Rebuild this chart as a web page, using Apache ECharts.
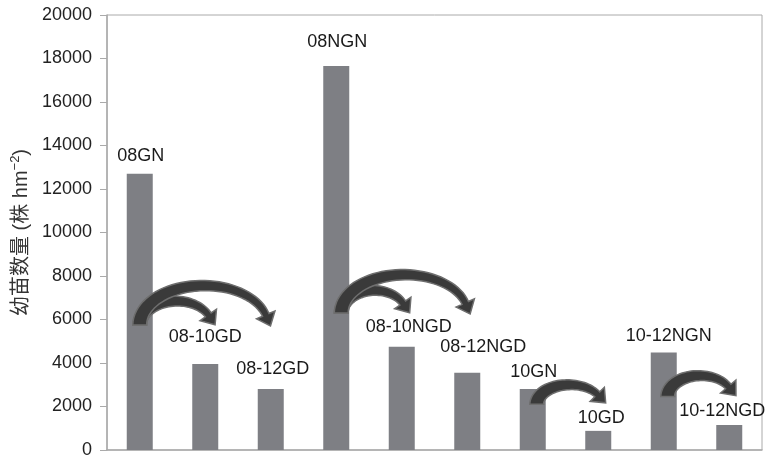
<!DOCTYPE html>
<html><head><meta charset="utf-8">
<script src="https://cdn.jsdelivr.net/npm/echarts@6/dist/echarts.min.js"></script>
<style>html,body{margin:0;padding:0;background:#fff}#c{width:766px;height:459px}</style>
</head><body><div id="c"></div>
<script>
// ---- data ----
const categories = ['08GN','08-10GD','08-12GD','08NGN','08-10NGD','08-12NGD','10GN','10GD','10-12NGN','10-12NGD'];
const values = [12700, 3950, 2800, 17650, 4750, 3550, 2800, 880, 4480, 1150];
const yTicks = {min: 0, max: 20000, interval: 2000};
// annotation arrows (from category -> to category, base and peak in y units)
const arrowFrom = [0, 0, 3, 3, 6, 8];
const arrowTo   = [1, 2, 4, 5, 7, 9];
const arrowBase = [5750, 5750, 6300, 6300, 2100, 2460];
const arrowTop  = [6850, 7560, 7340, 8060, 3000, 3420];

// ---- styling ----
const labelOffsets = [[1,-4],[0,-13],[2,-6],[1,-10],[7,-5.5],[16,-11.5],[1,-3],[3,1.5],[5,-3],[-7,0.5]];
const arrowStartShift = [0, 0, 5, 5, 4, 4];
const arrowEndShift = [3, -5, 1, -2, -1, -1];
const FONT = "'Liberation Sans', Arial, 'Noto Sans CJK SC', sans-serif";

const chart = echarts.init(document.getElementById('c'));

function renderArrow(params, api) {
  const i = params.dataIndex;
  const f = api.value(0), t = api.value(1), base = api.value(2), top = api.value(3);
  const S = api.coord([f, base]);
  const T = api.coord([t, base]);
  const P = api.coord([f, top]);
  const sx = S[0] + arrowStartShift[i];
  const ex = T[0] + arrowEndShift[i];
  const cy = S[1], ry = cy - P[1];
  const th1 = Math.asin(Math.min(0.9, 10 / ry));
  const rx = (ex - sx) / (1 + Math.cos(th1));
  const cx = sx + rx;
  const N = 40;
  const w0 = 14, w1 = 7, headW = 20, headL = 12;
  const left = [], right = [];
  let E, dEnd, nEnd;
  for (let k = 0; k <= N; k++) {
    const th = Math.PI - (Math.PI - th1) * k / N;
    const p = [cx + rx * Math.cos(th), cy - ry * Math.sin(th)];
    let d = [rx * Math.sin(th), ry * Math.cos(th)];
    const L = Math.hypot(d[0], d[1]) || 1;
    d = [d[0] / L, d[1] / L];
    const n = [-d[1], d[0]];
    const w = w0 + (w1 - w0) * k / N;
    left.push([p[0] + n[0] * w / 2, p[1] + n[1] * w / 2]);
    right.push([p[0] - n[0] * w / 2, p[1] - n[1] * w / 2]);
    if (k === N) { E = p; dEnd = d; nEnd = n; }
  }
  const pts = left.slice();
  pts.push([E[0] + nEnd[0] * headW / 2, E[1] + nEnd[1] * headW / 2]);
  pts.push([E[0] + dEnd[0] * headL, E[1] + dEnd[1] * headL]);
  pts.push([E[0] - nEnd[0] * headW / 2, E[1] - nEnd[1] * headW / 2]);
  for (let k = right.length - 1; k >= 0; k--) pts.push(right[k]);
  return {
    type: 'polygon',
    shape: { points: pts },
    style: { fill: '#3a3a3a', stroke: '#6e6e6e', lineWidth: 1.5 }
  };
}

chart.setOption({
  animation: false,
  backgroundColor: '#fff',
  textStyle: { fontFamily: FONT },
  grid: { left: 107, right: 4, top: 15, bottom: 5, show: true, borderColor: '#aaa', borderWidth: 1 },
  xAxis: {
    type: 'category',
    data: categories,
    axisLine: { lineStyle: { color: '#aaa', width: 1.5 } },
    axisTick: { show: false },
    axisLabel: { show: false },
    splitLine: { show: false }
  },
  yAxis: {
    type: 'value',
    min: yTicks.min, max: yTicks.max, interval: yTicks.interval,
    axisLine: { show: true, lineStyle: { color: '#aaa', width: 1.5 } },
    axisTick: { show: true, length: 7, lineStyle: { color: '#aaa' } },
    axisLabel: { color: '#222', fontSize: 18, margin: 15, fontFamily: FONT, formatter: v => String(v) },
    splitLine: { show: false },
    name: '{a|幼苗数量 (株 hm}{s|−2}{a|)}',
    nameLocation: 'middle',
    nameRotate: 90,
    nameGap: 70,
    nameTextStyle: {
      rich: {
        a: { fontSize: 20, color: '#333', fontFamily: FONT, lineHeight: 24 },
        s: { fontSize: 13, color: '#333', fontFamily: FONT, verticalAlign: 'top', lineHeight: 24, padding: [0, 0, 7, 0] }
      }
    }
  },
  series: [
    {
      type: 'bar',
      barWidth: 26,
      itemStyle: { color: '#7e7f84' },
      data: values.map((v, i) => ({ value: v, label: { offset: labelOffsets[i] } })),
      label: { show: true, position: 'top', formatter: '{b}', color: '#1a1a1a', fontSize: 18, fontFamily: FONT }
    },
    {
      type: 'custom',
      renderItem: renderArrow,
      encode: { x: 0, y: 2 },
      data: arrowFrom.map((f, i) => [f, arrowTo[i], arrowBase[i], arrowTop[i]]),
      z: 5
    }
  ]
});
</script>
</body></html>
